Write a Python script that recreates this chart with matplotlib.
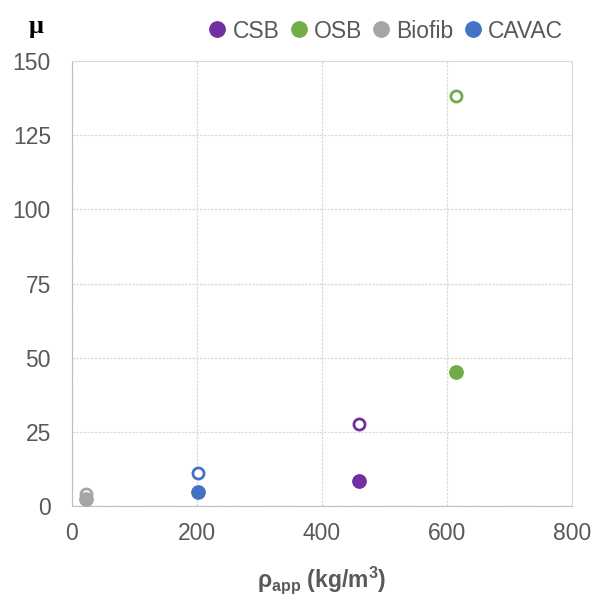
import matplotlib
matplotlib.use("Agg")
import matplotlib.pyplot as plt

# donnees
series = ["CSB", "OSB", "Biofib", "CAVAC"]
couleurs = ["#7030A0", "#70AD47", "#A5A5A5", "#4472C4"]
rho = [459, 614, 22, 201]
mu_plein = [8.4, 45.3, 2.3, 4.7]
mu_vide = [27.6, 138.2, 4.0, 11.1]

plt.rcParams['font.family'] = ['Liberation Sans', 'DejaVu Sans']
plt.rcParams['mathtext.fontset'] = 'custom'
plt.rcParams['mathtext.rm'] = 'Liberation Sans'
plt.rcParams['mathtext.bf'] = 'Liberation Sans:bold'

gris_texte = '#595959'

fig = plt.figure(figsize=(5.98, 5.95), dpi=100)
ax = fig.add_axes([0.120, 0.150, 0.837, 0.747])

for nom, c, x, yp, yv in zip(series, couleurs, rho, mu_plein, mu_vide):
    ax.plot(x, yv, 'o', ms=8, mfc='white', mec=c, mew=2, zorder=3)
    ax.plot(x, yp, 'o', ms=9.6, color=c, label=nom, zorder=4)

ax.set_xlim(0, 800)
ax.set_ylim(0, 150)
ax.set_xticks([0, 200, 400, 600, 800])
ax.set_yticks([0, 25, 50, 75, 100, 125, 150])
ax.grid(True, color='#D9D9D9', linestyle=(0, (2, 1)), linewidth=0.9)
ax.set_axisbelow(True)
for s in ['top', 'right']:
    ax.spines[s].set_color('#D9D9D9')
    ax.spines[s].set_linestyle((0, (2, 1)))
for s in ['left', 'bottom']:
    ax.spines[s].set_color('#BFBFBF')
ax.tick_params(length=0, labelsize=16.5, colors=gris_texte)
ax.tick_params(axis='y', pad=15)
ax.tick_params(axis='x', pad=12)

ax.set_xlabel(r'ρ$_{\mathbf{app}}$ (kg/m$^{\mathbf{3}}$)', fontsize=16.5,
              fontweight='bold', color=gris_texte, va='center')
ax.xaxis.set_label_coords(0.5, -0.167)
fig.text(36 / 598, 1 - 26 / 595, 'μ', fontsize=19, fontweight='bold', color='black',
         family=['Liberation Serif', 'DejaVu Serif'], ha='center', va='center')

ax.legend(loc='center right', bbox_to_anchor=(563 / 598, 1 - 31 / 595),
          bbox_transform=fig.transFigure, ncol=4, frameon=False,
          fontsize=16.5, handlelength=0.8, handletextpad=0.25, columnspacing=0.45,
          markerscale=1.15, labelcolor=gris_texte, borderaxespad=0, borderpad=0)

fig.savefig("out.png", dpi=100)
